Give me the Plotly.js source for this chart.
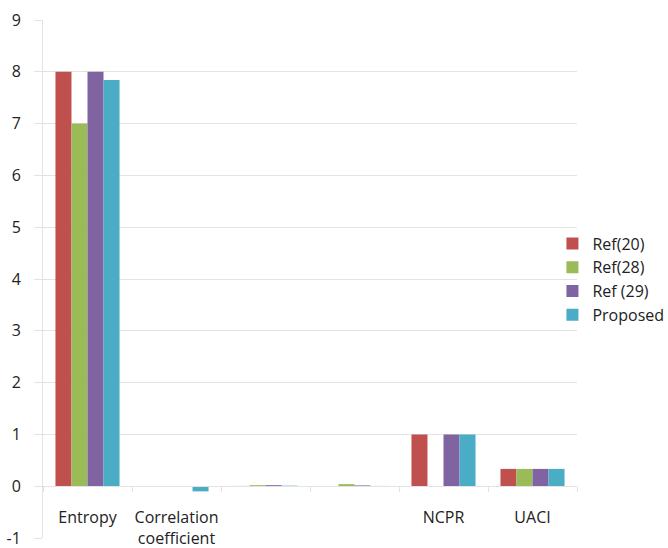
<!DOCTYPE html>
<html>
<head>
<meta charset="utf-8">
<script src="https://cdn.plot.ly/plotly-3.0.1.min.js"></script>
<style>
  html, body { margin: 0; padding: 0; background: #fff; }
  #chart { width: 668px; height: 548px; }
</style>
</head>
<body>
<div id="chart"></div>
<script>
// Metric categories (two groups have no printed label)
const categories = ["Entropy", "Correlation<br>coefficient", " ", "  ", "NCPR", "UACI"];

// Values per method
const ref20    = [8.0,  0.002, 0.005, 0.003, 1.0, 0.334];
const ref28    = [7.0,  0.003, 0.02,  0.04,  null, 0.334];
const ref29    = [8.0,  -0.004, 0.02, 0.015, 1.0, 0.334];
const proposed = [7.84, -0.1,  0.01,  0.005, 1.0, 0.334];

// Y axis ticks (plain hyphen for the negative label)
const yTickVals = [-1, 0, 1, 2, 3, 4, 5, 6, 7, 8, 9];
const yTickText = ["-1", "0", "1", "2", "3", "4", "5", "6", "7", "8", "9"];

const seriesNames = ["Ref(20)", "Ref(28)", "Ref (29)", "Proposed"];
const seriesColors = ["#C0504D", "#9BBB59", "#8064A2", "#4BACC6"];
const seriesValues = [ref20, ref28, ref29, proposed];

const traces = seriesValues.map((vals, i) => ({
  type: "bar",
  name: seriesNames[i],
  x: categories,
  y: vals,
  marker: { color: seriesColors[i], line: { width: 0 } },
  hoverinfo: "x+y+name"
}));

const gridColor = "#e3e3e3";
const textColor = "#222222";

const layout = {
  width: 668,
  height: 548,
  margin: { l: 43, r: 91, t: 20, b: 10, autoexpand: false },
  paper_bgcolor: "#ffffff",
  plot_bgcolor: "#ffffff",
  font: { family: "Open Sans, sans-serif", size: 16, color: textColor },
  barmode: "group",
  bargap: 0.28,
  bargroupgap: 0,
  showlegend: true,
  legend: {
    xref: "container",
    yref: "container",
    x: 0.827, xanchor: "left",
    y: 0.49, yanchor: "middle",
    font: { size: 16, color: textColor },
    bgcolor: "rgba(0,0,0,0)",
    itemwidth: 30,
    tracegroupgap: 0
  },
  xaxis: {
    type: "category",
    anchor: "free",
    position: 0.1,
    showline: true,
    linecolor: gridColor,
    linewidth: 1,
    showgrid: false,
    zeroline: false,
    ticks: "outside",
    tickson: "boundaries",
    ticklen: 5,
    tickcolor: gridColor,
    tickangle: 0,
    tickfont: { size: 16, color: textColor },
    ticklabelstandoff: 17,
    ticklabeloverflow: "allow",
    automargin: false,
    fixedrange: true
  },
  yaxis: {
    range: [-1, 9],
    tickmode: "array",
    tickvals: yTickVals,
    ticktext: yTickText,
    showgrid: true,
    gridcolor: gridColor,
    gridwidth: 1,
    zeroline: false,
    showline: true,
    linecolor: gridColor,
    ticks: "outside",
    ticklen: 8,
    tickcolor: gridColor,
    tickfont: { size: 16, color: textColor },
    ticklabelstandoff: 10,
    ticklabeloverflow: "allow",
    automargin: false,
    fixedrange: true
  }
};

Plotly.newPlot("chart", traces, layout, { displayModeBar: false, staticPlot: true });
</script>
</body>
</html>
